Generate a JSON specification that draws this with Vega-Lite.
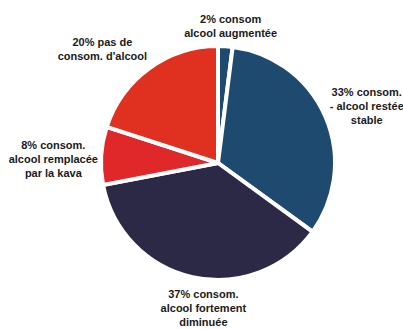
{
  "$schema": "https://vega.github.io/schema/vega-lite/v6.json",
  "autosize": {"type": "none"},
  "width": 370,
  "height": 326,
  "padding": {"left": 33, "top": 0, "right": 0, "bottom": 3},
  "background": "white",
  "config": {"view": {"stroke": null}},
  "data": {
    "values": [
      {"cat": "augmentee", "order": 1, "pct": 2, "label": "2% consom\nalcool augmentée"},
      {"cat": "stable", "order": 2, "pct": 33, "label": "33% consom.\n- alcool restée\nstable"},
      {"cat": "diminuee", "order": 3, "pct": 37, "label": "37% consom.\nalcool fortement\ndiminuée"},
      {"cat": "kava", "order": 4, "pct": 8, "label": "8% consom.\nalcool remplacée\npar la kava"},
      {"cat": "pas", "order": 5, "pct": 20, "label": "20% pas de\nconsom. d'alcool"}
    ]
  },
  "encoding": {
    "theta": {"field": "pct", "type": "quantitative", "stack": true},
    "order": {"field": "order", "type": "quantitative"}
  },
  "layer": [
    {
      "mark": {"type": "arc", "outerRadius": 117, "stroke": "white", "strokeWidth": 4},
      "encoding": {
        "color": {
          "field": "cat", "type": "nominal", "legend": null,
          "scale": {
            "domain": ["augmentee", "stable", "diminuee", "kava", "pas"],
            "range": ["#1f4a70", "#1f4a70", "#2c2946", "#e0282a", "#e0301f"]
          }
        }
      }
    },
    {
      "mark": {"type": "text", "radius": 137, "dx": 4, "dy": -6, "font": "Liberation Sans", "fontWeight": "bold", "fontSize": 11, "lineHeight": 14, "lineBreak": "\n", "align": "center", "baseline": "middle", "color": "#1a1a1a"},
      "encoding": {"text": {"condition": {"test": "datum.cat === 'augmentee'", "field": "label"}, "value": ""}}
    },
    {
      "mark": {"type": "text", "radius": 161, "dx": 1, "dy": -6, "font": "Liberation Sans", "fontWeight": "bold", "fontSize": 11, "lineHeight": 14, "lineBreak": "\n", "align": "center", "baseline": "middle", "color": "#1a1a1a"},
      "encoding": {"text": {"condition": {"test": "datum.cat === 'stable'", "field": "label"}, "value": ""}}
    },
    {
      "mark": {"type": "text", "radius": 145, "dx": 17, "dy": -10, "font": "Liberation Sans", "fontWeight": "bold", "fontSize": 11, "lineHeight": 14, "lineBreak": "\n", "align": "center", "baseline": "middle", "color": "#1a1a1a"},
      "encoding": {"text": {"condition": {"test": "datum.cat === 'diminuee'", "field": "label"}, "value": ""}}
    },
    {
      "mark": {"type": "text", "radius": 163, "dx": -2, "dy": -7, "font": "Liberation Sans", "fontWeight": "bold", "fontSize": 11, "lineHeight": 14, "lineBreak": "\n", "align": "center", "baseline": "middle", "color": "#1a1a1a"},
      "encoding": {"text": {"condition": {"test": "datum.cat === 'kava'", "field": "label"}, "value": ""}}
    },
    {
      "mark": {"type": "text", "radius": 161, "dx": -21, "dy": 10, "font": "Liberation Sans", "fontWeight": "bold", "fontSize": 11, "lineHeight": 14, "lineBreak": "\n", "align": "center", "baseline": "middle", "color": "#1a1a1a"},
      "encoding": {"text": {"condition": {"test": "datum.cat === 'pas'", "field": "label"}, "value": ""}}
    }
  ]
}
